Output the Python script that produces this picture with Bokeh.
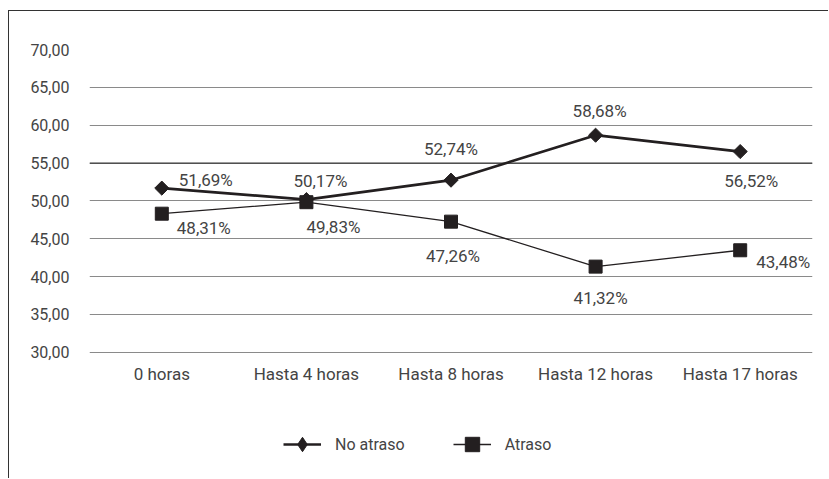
from bokeh.plotting import figure
from bokeh.models import (ColumnDataSource, FactorRange, Range1d, LabelSet, Legend,
                          LegendItem, CustomJSTickFormatter, Span, FixedTicker)
from bokeh.core.properties import value, field
from bokeh.embed import file_html
from bokeh.resources import INLINE

# ---- data ----
categories = ["0 horas", "Hasta 4 horas", "Hasta 8 horas", "Hasta 12 horas", "Hasta 17 horas"]
no_atraso = [51.69, 50.17, 52.74, 58.68, 56.52]
atraso = [48.31, 49.83, 47.26, 41.32, 43.48]
y_ticks = [30, 35, 40, 45, 50, 55, 60, 65, 70]
y_min, y_max = 30, 70

# ---- label placement (screen px offsets, styling only) ----
n_dx = [17, 14, 0, 4, 11]
n_dy = [8, 19, 31, 24, -29]
n_align = ["left", "center", "center", "center", "center"]
a_dx = [15, 27, 2, 5, 16]
a_dy = [-14, -25, -34, -31, -12]
a_align = ["left", "center", "center", "center", "left"]

FONT = "Roboto"
INK = "#231f20"
TEXT = "#444444"
NAN = float("nan")


def fmt(v):
    return f"{v:.2f}".replace(".", ",") + "%"


src_n = ColumnDataSource(dict(x=categories, y=no_atraso, label=[fmt(v) for v in no_atraso],
                              dx=n_dx, dy=n_dy, align=n_align))
src_a = ColumnDataSource(dict(x=categories, y=atraso, label=[fmt(v) for v in atraso],
                              dx=a_dx, dy=a_dy, align=a_align))

# the frame extends below the 30 line to host the legend; the x axis is pinned at y=30
p = figure(x_range=FactorRange(*categories), y_range=Range1d(13.2, y_max),
           width=820, height=468, output_backend="svg", toolbar_location=None,
           min_border_left=80, min_border_right=17, min_border_top=38, min_border_bottom=0)
p.outline_line_color = None
p.styles = {"border-left": "1px solid #333", "border-top": "1px solid #333",
            "margin-top": "10px", "margin-left": "8px"}

# axes
for ax in (p.xaxis[0], p.yaxis[0]):
    ax.axis_line_color = None
    ax.major_tick_line_color = None
    ax.minor_tick_line_color = None
    ax.major_label_text_font = FONT
    ax.major_label_text_color = TEXT
p.xaxis.fixed_location = y_min
p.xaxis.major_label_text_font_size = "17px"
p.xaxis.major_label_standoff = 6
p.yaxis.major_label_text_font_size = "16px"
p.yaxis.major_label_standoff = 14
p.yaxis.ticker = FixedTicker(ticks=y_ticks)
p.yaxis.formatter = CustomJSTickFormatter(code="return tick.toFixed(2).replace('.', ',');")

p.xgrid.grid_line_color = None
p.ygrid.grid_line_color = "#8a8a8a"
p.ygrid.grid_line_width = 1
p.add_layout(Span(location=55, dimension="width", line_color="#222222", line_width=1, level="underlay"))

# series
rn_line = p.line("x", "y", source=src_n, line_width=2.7, line_color=INK)
rn_mark = p.scatter("x", "y", source=src_n, marker="square", angle=0.785398, size=10,
                    fill_color=INK, line_color=INK)
ra_line = p.line("x", "y", source=src_a, line_width=1.3, line_color=INK)
ra_mark = p.scatter("x", "y", source=src_a, marker="square", size=13,
                    fill_color=INK, line_color=INK)

# legend-only marker glyphs (a single NaN point: nothing drawn in the plot area)
ln_mark = p.scatter(x=[categories[0]], y=[NAN], marker="diamond", size=19,
                    fill_color=INK, line_color=INK)
la_mark = p.scatter(x=[categories[0]], y=[NAN], marker="square", size=14,
                    fill_color=INK, line_color=INK)

for src in (src_n, src_a):
    p.add_layout(LabelSet(x="x", y="y", text="label", source=src,
                          x_offset=field("dx"), y_offset=field("dy"), text_align=field("align"),
                          text_baseline="middle", text_font=value(FONT),
                          text_font_size="17px", text_color=TEXT))

legend = Legend(items=[LegendItem(label="No atraso", renderers=[rn_line, ln_mark]),
                       LegendItem(label="Atraso", renderers=[ra_line, la_mark])],
                orientation="horizontal", location=(194, 17),
                glyph_width=38, glyph_height=36, label_standoff=14, spacing=48,
                padding=0, margin=0, border_line_color=None, background_fill_alpha=0,
                label_text_font=FONT, label_text_font_size="16px", label_text_color=TEXT)
p.add_layout(legend)

open("out.html", "w").write(file_html(p, INLINE))
